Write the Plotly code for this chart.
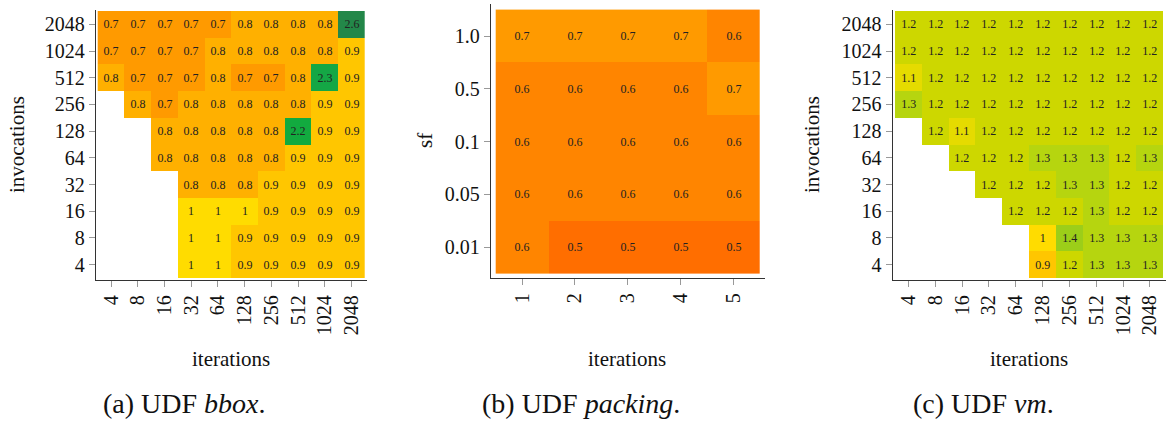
import plotly.graph_objects as go

# ---------------- data ----------------
pow_labels = ["4", "8", "16", "32", "64", "128", "256", "512", "1024", "2048"]
sf_labels = ["0.01", "0.05", "0.1", "0.5", "1.0"]
packing_iters = ["1", "2", "3", "4", "5"]

N = None
# rows listed bottom (invocations=4) to top (invocations=2048); columns iterations 4..2048
bbox_vals = [
    [N, N, N, 1, 1, 0.9, 0.9, 0.9, 0.9, 0.9],          # 4
    [N, N, N, 1, 1, 0.9, 0.9, 0.9, 0.9, 0.9],          # 8
    [N, N, N, 1, 1, 1, 0.9, 0.9, 0.9, 0.9],            # 16
    [N, N, N, 0.8, 0.8, 0.8, 0.9, 0.9, 0.9, 0.9],      # 32
    [N, N, 0.8, 0.8, 0.8, 0.8, 0.8, 0.9, 0.9, 0.9],    # 64
    [N, N, 0.8, 0.8, 0.8, 0.8, 0.8, 2.2, 0.9, 0.9],    # 128
    [N, 0.8, 0.7, 0.8, 0.8, 0.8, 0.8, 0.8, 0.9, 0.9],  # 256
    [0.8, 0.7, 0.7, 0.7, 0.8, 0.7, 0.7, 0.8, 2.3, 0.9],  # 512
    [0.7, 0.7, 0.7, 0.7, 0.8, 0.8, 0.8, 0.8, 0.8, 0.9],  # 1024
    [0.7, 0.7, 0.7, 0.7, 0.7, 0.8, 0.8, 0.8, 0.8, 2.6],  # 2048
]

# rows sf = 0.01, 0.05, 0.1, 0.5, 1.0 ; columns iterations 1..5
packing_vals = [
    [0.6, 0.5, 0.5, 0.5, 0.5],
    [0.6, 0.6, 0.6, 0.6, 0.6],
    [0.6, 0.6, 0.6, 0.6, 0.6],
    [0.6, 0.6, 0.6, 0.6, 0.7],
    [0.7, 0.7, 0.7, 0.7, 0.6],
]

vm_vals = [
    [N, N, N, N, N, 0.9, 1.2, 1.3, 1.3, 1.3],          # 4
    [N, N, N, N, N, 1, 1.4, 1.3, 1.3, 1.3],            # 8
    [N, N, N, N, 1.2, 1.2, 1.2, 1.3, 1.2, 1.2],        # 16
    [N, N, N, 1.2, 1.2, 1.2, 1.3, 1.3, 1.2, 1.2],      # 32
    [N, N, 1.2, 1.2, 1.2, 1.3, 1.3, 1.3, 1.2, 1.3],    # 64
    [N, 1.2, 1.1, 1.2, 1.2, 1.2, 1.2, 1.2, 1.2, 1.2],  # 128
    [1.3, 1.2, 1.2, 1.2, 1.2, 1.2, 1.2, 1.2, 1.2, 1.2],  # 256
    [1.1, 1.2, 1.2, 1.2, 1.2, 1.2, 1.2, 1.2, 1.2, 1.2],  # 512
    [1.2, 1.2, 1.2, 1.2, 1.2, 1.2, 1.2, 1.2, 1.2, 1.2],  # 1024
    [1.2, 1.2, 1.2, 1.2, 1.2, 1.2, 1.2, 1.2, 1.2, 1.2],  # 2048
]

# ---------------- style ----------------
ZMIN, ZMAX = 0.5, 2.6
stops = [
    (0.5, "#FF6E00"), (0.6, "#FF8500"), (0.7, "#FF9A00"), (0.8, "#FFB000"),
    (0.9, "#FFC600"), (1.0, "#FFDC00"), (1.1, "#E5DB00"), (1.2, "#CDD700"),
    (1.3, "#B6D50F"), (1.4, "#9CCE19"), (2.2, "#12AA3F"), (2.3, "#14A745"),
    (2.6, "#238749"),
]
colorscale = [[(v - ZMIN) / (ZMAX - ZMIN), c] for v, c in stops]

W, H = 1166, 424
FONT = "Liberation Serif, Times New Roman, Times, serif"


def px_x(x):
    return x / W


def px_y(y):
    return 1 - y / H


def txt(vals):
    return [["" if v is None else f"{v:g}" for v in row] for row in vals]


fig = go.Figure()

common = dict(colorscale=colorscale, zmin=ZMIN, zmax=ZMAX, showscale=False,
              texttemplate="%{text}", hoverinfo="skip",
              textfont=dict(family=FONT, size=12, color="#222"))

fig.add_trace(go.Heatmap(z=bbox_vals, x=list(range(10)), y=list(range(10)),
                         text=txt(bbox_vals), xaxis="x", yaxis="y", **common))
fig.add_trace(go.Heatmap(z=packing_vals, x=list(range(1, 6)), y=list(range(5)),
                         text=txt(packing_vals), xaxis="x2", yaxis="y2", **common))
fig.add_trace(go.Heatmap(z=vm_vals, x=list(range(10)), y=list(range(10)),
                         text=txt(vm_vals), xaxis="x3", yaxis="y3", **common))

axstyle = dict(showline=True, linecolor="#333", linewidth=1.3, ticks="outside",
               ticklen=6, tickcolor="#999", tickwidth=1, showgrid=False,
               zeroline=False, tickfont=dict(family=FONT, size=20, color="#111"),
               fixedrange=True)

fig.update_layout(
    xaxis=dict(domain=[px_x(96), px_x(367)], anchor="y",
               range=[-0.5 - 1.7 / 26.73, 9.5 + 2 / 26.73],
               tickvals=list(range(10)), ticktext=pow_labels, tickangle=-90, **axstyle),
    yaxis=dict(domain=[px_y(280), px_y(10)], anchor="x",
               range=[-0.5 - 2 / 26.7, 9.5 + 1 / 26.7],
               tickvals=list(range(10)), ticktext=pow_labels, **axstyle),
    xaxis2=dict(domain=[px_x(491), px_x(765)], anchor="y2",
                range=[0.5 - 4.7 / 52.86, 5.5 + 5 / 52.86],
                tickvals=list(range(1, 6)), ticktext=packing_iters, tickangle=-90, **axstyle),
    yaxis2=dict(domain=[px_y(278), px_y(4)], anchor="x2",
                range=[-0.5 - 4.3 / 52.8, 4.5 + 5.6 / 52.8],
                tickvals=list(range(5)), ticktext=sf_labels, **axstyle),
    xaxis3=dict(domain=[px_x(892.7), px_x(1166)], anchor="y3",
                range=[-0.5 - 2.3 / 26.83, 9.5 + 2.7 / 26.83],
                tickvals=list(range(10)), ticktext=pow_labels, tickangle=-90, **axstyle),
    yaxis3=dict(domain=[px_y(280), px_y(10)], anchor="x3",
                range=[-0.5 - 2 / 26.7, 9.5 + 1 / 26.7],
                tickvals=list(range(10)), ticktext=pow_labels, **axstyle),
)

ann = []


def add_text(text, x, y, size, angle=0):
    ann.append(dict(text=text, x=px_x(x), y=px_y(y), xref="paper", yref="paper",
                    showarrow=False, textangle=angle, xanchor="center", yanchor="middle",
                    font=dict(family=FONT, size=size, color="#111")))


add_text("invocations", 17, 145, 21, -90)
add_text("iterations", 231, 359, 21)
add_text("(a) UDF <i>bbox</i>.", 184, 403, 28)

add_text("sf", 425, 141, 21, -90)
add_text("iterations", 627, 359, 21)
add_text("(b) UDF <i>packing</i>.", 581, 403, 28)

add_text("invocations", 812, 145, 21, -90)
add_text("iterations", 1029, 359, 21)
add_text("(c) UDF <i>vm</i>.", 983, 403, 28)

fig.update_layout(annotations=ann, width=W, height=H,
                  margin=dict(l=0, r=0, t=0, b=0),
                  paper_bgcolor="white", plot_bgcolor="white")

fig.write_html("out.html", config={"displayModeBar": False})
